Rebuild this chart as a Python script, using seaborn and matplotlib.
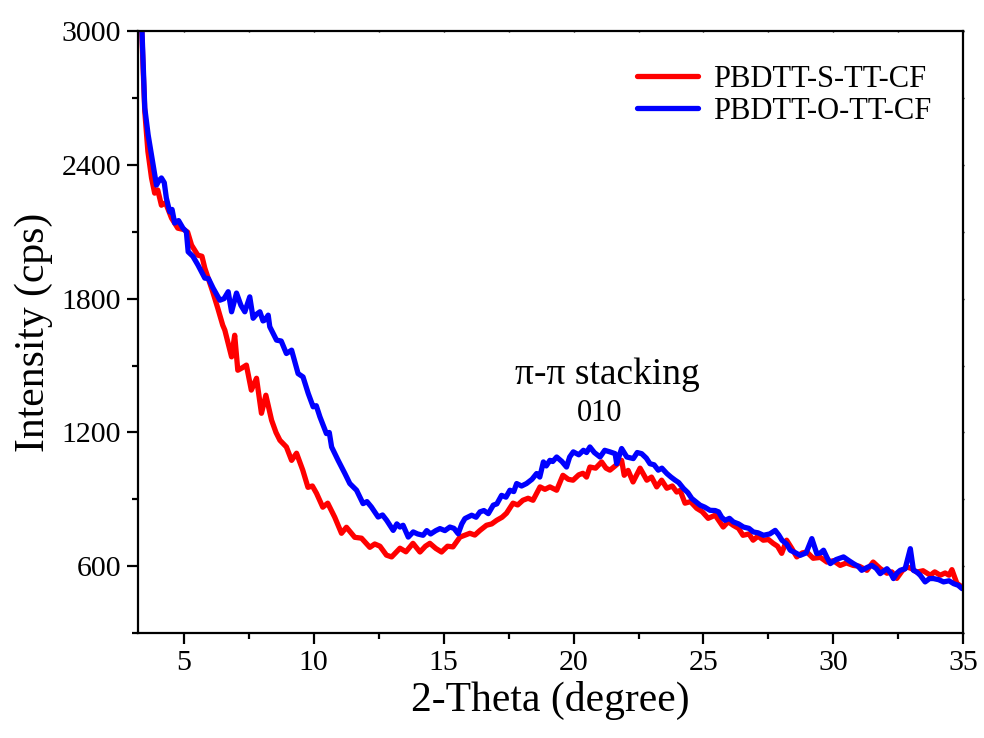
import matplotlib
matplotlib.use("Agg")
import matplotlib.pyplot as plt
from matplotlib.ticker import MultipleLocator
import pandas as pd
import seaborn as sns

# PBDTT-S-TT-CF (red)
x_s = [3.30, 3.43, 3.50, 3.62, 3.76, 3.88, 4.00, 4.14, 4.30, 4.53, 4.77, 5.00, 5.15, 5.30,
       5.54, 5.70, 5.81, 6.12, 6.31, 6.50, 6.58, 6.84, 6.96, 7.08, 7.25, 7.41, 7.60, 7.80,
       7.99, 8.16, 8.38, 8.55, 8.70, 8.95, 9.15, 9.34, 9.58, 9.78, 9.95, 10.11, 10.35, 10.54,
       10.81, 11.07, 11.26, 11.58, 11.84, 12.16, 12.35, 12.55, 12.80, 13.00, 13.32, 13.55,
       13.82, 14.09, 14.30, 14.47, 14.70, 14.92, 15.15, 15.36, 15.63, 16.01, 16.20, 16.40,
       16.65, 16.85, 17.04, 17.25, 17.42, 17.67, 17.85, 18.05, 18.25, 18.44, 18.71, 18.90,
       19.09, 19.35, 19.59, 19.80, 19.98, 20.20, 20.36, 20.50, 20.63, 20.85, 21.08, 21.25,
       21.40, 21.60, 21.85, 21.95, 22.10, 22.29, 22.56, 22.82, 23.00, 23.20, 23.39, 23.59,
       23.80, 23.97, 24.10, 24.29, 24.50, 24.74, 24.95, 25.18, 25.45, 25.76, 25.95, 26.14,
       26.35, 26.52, 26.75, 26.91, 27.10, 27.30, 27.50, 27.68, 27.85, 28.01, 28.20, 28.40,
       28.59, 28.80, 28.98, 29.22, 29.50, 29.75, 30.00, 30.26, 30.50, 30.76, 31.00, 31.29,
       31.53, 31.80, 32.06, 32.25, 32.44, 32.65, 32.83, 33.00, 33.21, 33.45, 33.73, 33.90,
       34.11, 34.30, 34.45, 34.56, 34.75, 34.95]
y_s = [3300, 2850, 2640, 2460, 2341, 2273, 2287, 2219, 2230, 2161, 2116, 2110, 2098, 2040,
       1995, 1990, 1937, 1829, 1757, 1681, 1659, 1539, 1636, 1479, 1490, 1502, 1390, 1443,
       1286, 1367, 1255, 1200, 1165, 1135, 1075, 1107, 1031, 954, 960, 927, 865, 883,
       820, 748, 775, 730, 726, 685, 700, 690, 650, 642, 681, 665,
       703, 664, 690, 703, 680, 664, 690, 687, 731, 748, 740, 761,
       784, 790, 806, 820, 838, 883, 875, 896, 905, 896, 956, 945,
       956, 941, 1008, 990, 986, 1010, 1017, 1000, 1045, 1040, 1068, 1040,
       1031, 1050, 1075, 1008, 1030, 978, 1040, 986, 1000, 956, 986, 950,
       960, 933, 940, 883, 890, 860, 845, 815, 829, 776, 800, 784,
       770, 739, 745, 717, 735, 717, 720, 703, 690, 658, 717, 680,
       642, 660, 664, 636, 640, 619, 625, 604, 615, 604, 600, 582,
       619, 590, 569, 575, 546, 580, 597, 590, 574, 580, 560, 575,
       560, 570, 560, 585, 524, 507]

# PBDTT-O-TT-CF (blue)
x_o = [3.30, 3.43, 3.50, 3.63, 3.82, 3.95, 4.05, 4.14, 4.25, 4.33, 4.46, 4.55, 4.65, 4.80,
       4.97, 5.10, 5.17, 5.35, 5.55, 5.81, 5.95, 6.13, 6.39, 6.55, 6.71, 6.84, 7.03, 7.20,
       7.35, 7.54, 7.67, 7.80, 7.93, 8.05, 8.12, 8.25, 8.31, 8.57, 8.75, 8.95, 9.15, 9.40,
       9.59, 9.79, 9.98, 10.10, 10.24, 10.49, 10.60, 10.69, 10.94, 11.20, 11.39, 11.65,
       11.90, 12.05, 12.22, 12.48, 12.65, 12.81, 13.06, 13.20, 13.32, 13.44, 13.64, 13.83,
       14.00, 14.21, 14.35, 14.50, 14.70, 14.86, 15.05, 15.24, 15.40, 15.56, 15.70, 15.82,
       16.08, 16.25, 16.40, 16.55, 16.72, 16.91, 17.05, 17.23, 17.40, 17.55, 17.70, 17.81,
       18.00, 18.19, 18.40, 18.58, 18.70, 18.84, 18.95, 19.09, 19.20, 19.35, 19.55, 19.73,
       19.85, 19.99, 20.20, 20.38, 20.50, 20.63, 20.80, 21.02, 21.20, 21.40, 21.60, 21.66,
       21.85, 22.05, 22.30, 22.45, 22.62, 22.80, 22.94, 23.10, 23.26, 23.40, 23.59, 23.75,
       23.91, 24.05, 24.23, 24.40, 24.55, 24.70, 24.87, 25.05, 25.25, 25.45, 25.58, 25.70,
       25.83, 26.00, 26.15, 26.35, 26.54, 26.75, 26.92, 27.10, 27.31, 27.55, 27.76, 27.90,
       28.02, 28.20, 28.34, 28.55, 28.72, 28.95, 29.17, 29.36, 29.50, 29.62, 29.75, 29.88,
       30.10, 30.39, 30.60, 30.77, 30.95, 31.09, 31.30, 31.48, 31.65, 31.80, 32.06, 32.20,
       32.31, 32.45, 32.57, 32.76, 32.96, 33.08, 33.20, 33.34, 33.53, 33.70, 33.85, 34.05,
       34.24, 34.45, 34.63, 34.80, 34.95]
y_o = [3300, 2879, 2655, 2534, 2399, 2309, 2330, 2341, 2320, 2251, 2189, 2200, 2139, 2150,
       2116, 2100, 2010, 1990, 1950, 1892, 1890, 1847, 1793, 1800, 1831, 1741, 1825, 1770,
       1741, 1808, 1712, 1730, 1741, 1700, 1704, 1726, 1674, 1614, 1610, 1554, 1569, 1464,
       1449, 1375, 1315, 1320, 1270, 1195, 1200, 1135, 1075, 1016, 971, 941,
       881, 890, 866, 821, 830, 806, 761, 790, 776, 784, 731, 754,
       745, 739, 760, 745, 760, 769, 760, 776, 770, 746, 790, 814,
       829, 820, 844, 850, 836, 874, 880, 918, 910, 941, 935, 971,
       960, 971, 990, 1016, 1000, 1068, 1050, 1075, 1070, 1090, 1070, 1045,
       1090, 1113, 1100, 1120, 1110, 1135, 1110, 1090, 1120, 1113, 1105, 1060,
       1128, 1090, 1083, 1110, 1105, 1085, 1060, 1055, 1031, 1040, 1016, 1000,
       986, 975, 949, 930, 904, 890, 874, 865, 851, 850, 844, 820,
       806, 815, 799, 790, 776, 770, 754, 750, 739, 745, 761, 740,
       717, 700, 672, 660, 649, 660, 724, 657, 660, 672, 640, 612,
       630, 642, 625, 612, 600, 582, 595, 604, 590, 567, 589, 570,
       545, 570, 582, 589, 679, 582, 575, 560, 530, 545, 545, 540,
       530, 535, 522, 515, 500]

labels = ["PBDTT-S-TT-CF", "PBDTT-O-TT-CF"]

df_s = pd.DataFrame({"theta": x_s, "intensity": y_s})
df_o = pd.DataFrame({"theta": x_o, "intensity": y_o})

sns.set_theme(style="ticks")
plt.rcParams["font.family"] = ["Liberation Serif", "DejaVu Serif"]
plt.rcParams["text.color"] = "black"
plt.rcParams["axes.labelcolor"] = "black"
plt.rcParams["xtick.color"] = "black"
plt.rcParams["ytick.color"] = "black"

fig = plt.figure(figsize=(9.84, 7.38), dpi=100)
ax = fig.add_axes([0.140, 0.142, 0.839, 0.816])

sns.lineplot(data=df_s, x="theta", y="intensity", ax=ax, color="#ff0000",
             linewidth=3.8, estimator=None, label=labels[0])
sns.lineplot(data=df_o, x="theta", y="intensity", ax=ax, color="#0000ff",
             linewidth=3.8, estimator=None, label=labels[1])

ax.set_xlim(3.23, 35)
ax.set_ylim(300, 3000)
ax.xaxis.set_major_locator(MultipleLocator(5))
ax.xaxis.set_minor_locator(MultipleLocator(2.5))
ax.yaxis.set_major_locator(MultipleLocator(600))
ax.yaxis.set_minor_locator(MultipleLocator(300))
ax.set_xticks([5, 10, 15, 20, 25, 30, 35])

for sp in ax.spines.values():
    sp.set_visible(True)
    sp.set_linewidth(1.6)
    sp.set_color("black")

ax.tick_params(which="major", length=8, width=1.6, labelsize=21.5, colors="black", pad=4)
ax.tick_params(which="minor", length=4.5, width=1.6)

# tiny ticks on top and right
top = ax.secondary_xaxis("top")
top.xaxis.set_major_locator(MultipleLocator(2.5))
top.tick_params(direction="inout", length=2, width=1, labeltop=False)
right = ax.secondary_yaxis("right")
right.yaxis.set_major_locator(MultipleLocator(300))
right.tick_params(direction="inout", length=2, width=1, labelright=False)

ax.set_xlabel("2-Theta (degree)", fontsize=30, labelpad=4)
ax.set_ylabel("Intensity (cps)", fontsize=30, labelpad=6)

ax.text(21.3, 1460, "\u03c0-\u03c0 stacking", fontsize=27, ha="center", va="center")
ax.text(21.0, 1286, "010", fontsize=22, ha="center", va="center")

ax.legend(loc="upper right", frameon=False, fontsize=22, handlelength=2.0,
          handletextpad=0.5, labelspacing=0.1, bbox_to_anchor=(0.995, 0.99))

fig.savefig("out.png", dpi=100)
